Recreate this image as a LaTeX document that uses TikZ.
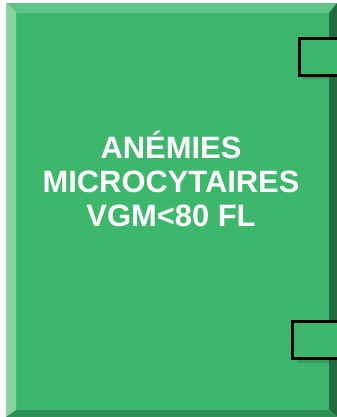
\documentclass[tikz,border=0pt]{standalone}
\usepackage{fontspec}
\setmainfont{Liberation Sans}
\usetikzlibrary{positioning}

\definecolor{facegreen}{RGB}{61,183,107}
\definecolor{topgreen}{RGB}{94,196,137}
\definecolor{leftgreen}{RGB}{138,211,165}
\definecolor{rightgreen}{RGB}{35,107,62}
\definecolor{botgreen}{RGB}{46,143,85}
\definecolor{shadegreen}{RGB}{52,160,94}

\begin{document}
\begin{tikzpicture}[
  x=1bp, y=-1bp,
  title/.style={align=center, text=white, font=\bfseries\fontsize{31}{34}\selectfont},
  tab/.style={rectangle, draw=black, line width=3bp, fill=facegreen, minimum width=50bp, minimum height=37bp, anchor=north west, inner sep=0pt}
]

\useasboundingbox (0,0) rectangle (337,417);

% bevelled panel
\fill[facegreen] (16,13) rectangle (329,410);
\fill[topgreen] (6,3) -- (337,3) -- (329,13) -- (16,13) -- cycle;
\fill[leftgreen] (6,3) -- (16,13) -- (16,410) -- (6,417) -- cycle;
\fill[rightgreen] (337,3) -- (337,417) -- (329,410) -- (329,13) -- cycle;
\fill[botgreen] (6,417) -- (16,410) -- (329,410) -- (337,417) -- cycle;

% tabs on the right side
\fill[shadegreen] (302,74) rectangle (329,79);
\fill[shadegreen] (297,357) rectangle (329,363);
\node[tab] (tabtop) at (298,37) {};
\node[tab] (tabbot) at (291,320) {};

\node[title] (label) at (171,179) {ANÉMIES\\MICROCYTAIRES\\VGM<80 FL};

\end{tikzpicture}
\end{document}
